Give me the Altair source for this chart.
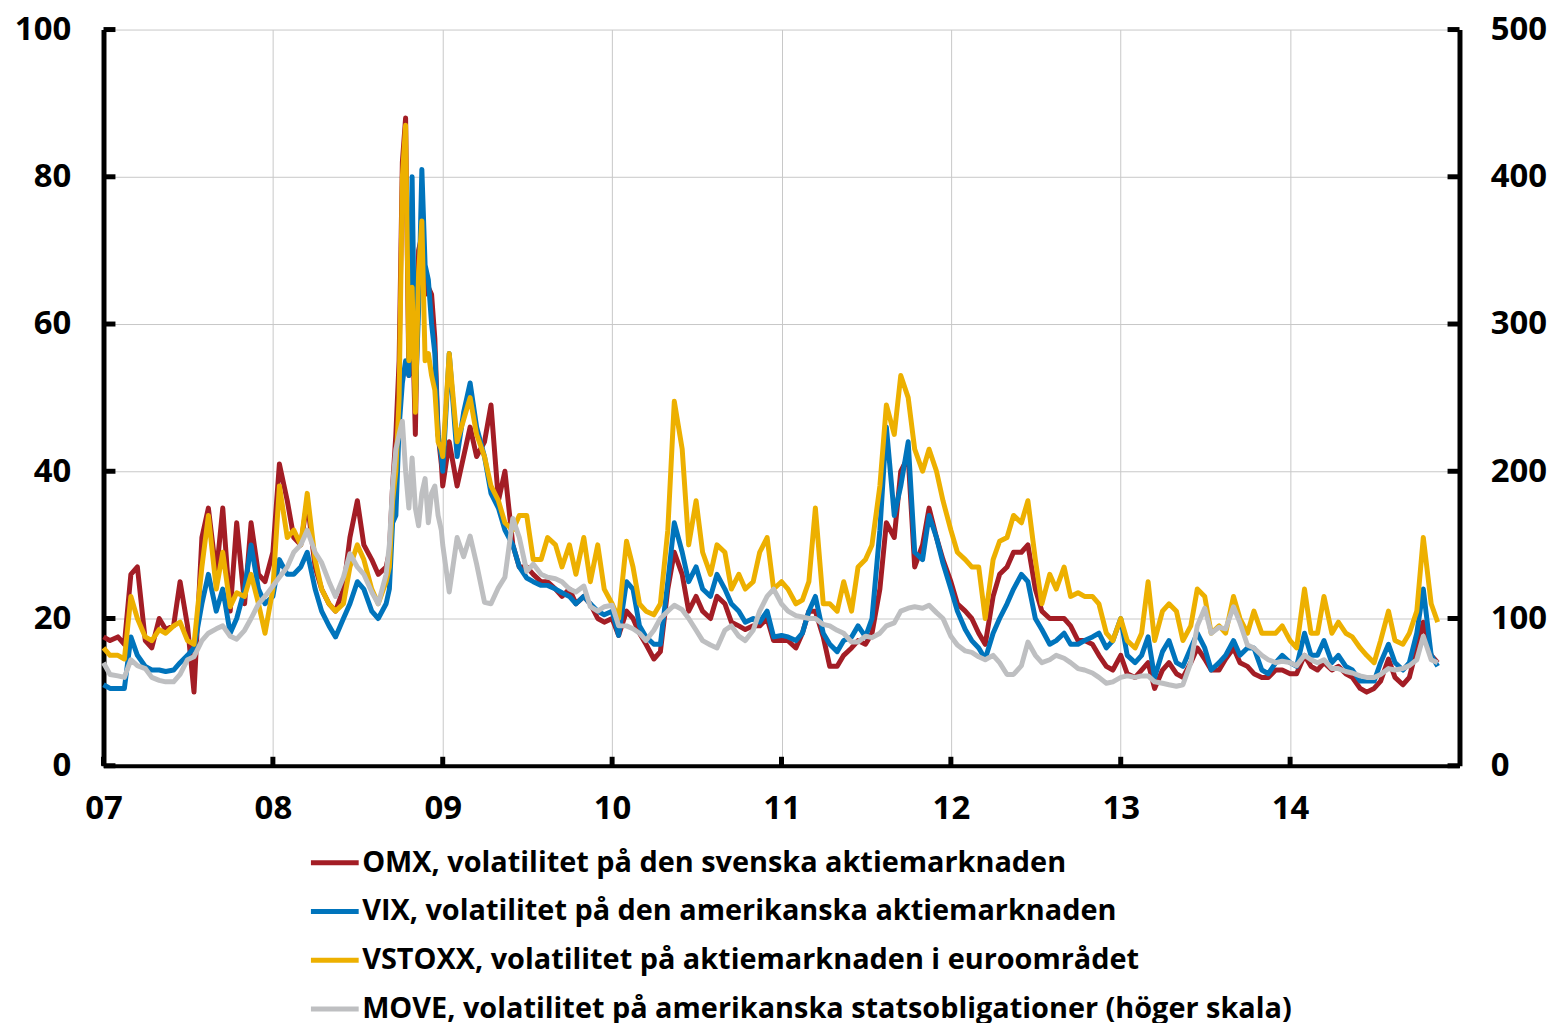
import altair as alt
import pandas as pd

# ---- dates: semi-monthly, weekly during autumn 2008 ----
dates = (list(pd.date_range("2007-01-01", "2008-08-15", freq="SMS"))
         + list(pd.date_range("2008-09-01", "2008-12-29", freq="W-MON"))
         + list(pd.date_range("2009-01-01", "2014-11-15", freq="SMS")))

# ---- series values ----
omx = (
    [17.5, 17, 17.5, 16.5, 26, 27, 17, 16, 20, 18.5, 19, 25, 19, 10, 31, 35, 26, 35, 21, 33, 22, 33, 26, 25]
    + [29, 41, 36, 31, 30, 36, 27, 24, 22, 21, 24, 31, 36, 30, 28, 26]
    + [27, 29, 38, 45, 55, 82, 88, 53, 62, 45, 70, 72, 64, 65, 64, 58, 45, 41]
    + [38, 44, 38, 42, 46, 42, 44, 49, 36, 40, 30, 27, 27, 26, 25, 25, 24, 23, 24, 22, 23, 22, 20, 19.5]
    + [20, 17.7, 21, 20, 18, 16.5, 14.5, 15.5, 24, 29, 26, 21, 23, 21, 20, 23, 22, 19.5, 19, 18.5, 19, 19, 20, 17]
    + [17, 17, 16, 18, 21, 21, 17.5, 13.5, 13.5, 15, 16, 17, 16.5, 18, 24, 33, 31, 40, 42, 27, 30, 35, 31, 28]
    + [25, 22, 21, 20, 18, 16.5, 23, 26, 27, 29, 29, 30, 24, 21, 20, 20, 20, 19, 17, 17, 16.5, 15, 13.5, 13]
    + [15, 12.5, 12, 13, 14, 10.5, 13, 14, 12.5, 12, 14, 16, 14.5, 13, 13, 14.5, 16, 14, 13.5, 12.5, 12, 12, 13, 13]
    + [12.5, 12.5, 15, 13.5, 13, 14, 13, 13.5, 12.5, 12, 10.5, 10, 10.5, 11.5, 14.5, 12, 11, 12, 16, 19.5, 15, 14]
)
vix = (
    [11, 10.5, 10.5, 10.5, 17.5, 15, 13.5, 13, 13, 12.8, 13, 14, 15, 16, 22, 26, 21, 24, 18, 20, 24, 30, 24, 22]
    + [23, 28, 26, 26, 27, 29, 24, 21, 19, 17.5, 20, 22, 25, 24, 21, 20]
    + [22, 24, 33, 34, 46, 52, 55, 53, 80, 50, 62, 81, 68, 66, 60, 56, 45, 42]
    + [40, 56, 42, 48, 52, 46, 42, 37, 35, 32, 30, 27, 25.5, 25, 24.5, 24.5, 24, 23.5, 23, 22, 23, 22, 21, 20.5]
    + [21, 17.7, 25, 24, 19, 17.5, 16.5, 16.5, 25, 33, 29, 25, 27, 24, 23, 26, 24, 22, 21, 19.5, 20, 19.5, 21, 17.5]
    + [17.7, 17.5, 17, 18, 21, 23, 18, 16.5, 15.5, 17, 17.5, 19, 17.5, 20, 32, 46, 34, 38, 44, 29, 28, 34, 31, 27.5]
    + [24, 21, 18.5, 17, 16, 14.5, 18, 20, 22, 24, 26, 25, 20, 18.5, 16.5, 17, 18, 16.5, 16.5, 17, 17.5, 18, 16, 17]
    + [20, 15, 14, 15, 17.5, 12, 15.5, 17, 14, 13.5, 16, 18, 16, 13, 14, 15, 17, 15, 16, 16, 13, 12.5, 14, 15]
    + [14, 13.5, 18, 15, 15, 17, 14, 15, 13.5, 13, 11.5, 11.5, 11.5, 14, 16.5, 14, 13, 14, 18, 24, 15, 13.5]
)
vstoxx = (
    [16, 15, 15, 14.5, 23, 20, 17.5, 17, 18.5, 18, 19, 19.5, 17, 16.5, 27, 34, 24, 29, 21.6, 23.5, 23, 26, 22, 18]
    + [24, 38, 31, 32, 30, 37, 28, 24, 22, 21, 22, 27, 30, 28, 24, 22]
    + [25, 27, 36, 40, 50, 80, 87, 55, 65, 48, 67, 74, 55, 56, 53, 51, 44, 43]
    + [42, 56, 44, 47, 50, 45, 42, 38, 36, 33, 32, 34, 34, 28, 28, 31, 30, 27, 30, 26, 31, 25, 30, 24]
    + [22, 20, 30.5, 27, 22, 21, 20.5, 22, 32, 49.5, 43, 30, 36, 29, 26, 30, 29, 24, 26, 24, 25, 29, 31, 24]
    + [25, 24, 22, 22.5, 25, 35, 22, 22, 21, 25, 21, 27, 28, 30, 38, 49, 45, 53, 50, 43, 40, 43, 40, 36]
    + [32, 29, 28, 27, 27, 20, 28, 30.5, 31, 34, 33, 36, 28, 22, 26, 24, 27, 23, 23.5, 23, 23, 22, 18, 17]
    + [20, 17, 16, 18, 25, 17, 21, 22, 21, 17, 19, 24, 23, 18, 19, 18, 23, 20, 18, 21, 18, 18, 18, 19]
    + [17, 16, 24, 18, 18, 23, 18, 19.5, 18, 17.5, 16, 15, 14, 17, 21, 17, 16.5, 18, 21, 31, 22, 19.5]
)
move = (
    [70, 62, 61, 60, 72, 68, 66, 60, 58, 57, 57, 62, 72, 74, 85, 90, 93, 95, 88, 86, 92, 100, 110, 115]
    + [122, 128, 135, 145, 150, 160, 145, 138, 125, 115, 128, 144, 135, 130, 118, 110]
    + [130, 150, 190, 215, 225, 234, 200, 175, 209, 175, 163, 185, 195, 165, 185, 190, 170, 160]
    + [150, 118, 155, 142, 156, 137, 111, 110, 121, 128, 168, 155, 132, 137, 130, 128, 127, 125, 120, 118, 122, 108, 105, 108]
    + [109, 95, 95, 93, 90, 85, 92, 100, 105, 109, 106, 100, 92, 85, 82, 80, 92, 95, 88, 85, 92, 105, 115, 120]
    + [110, 105, 102, 101, 100, 100, 96, 95, 92, 90, 84, 84, 88, 87, 90, 95, 97, 105, 107, 108, 107, 109, 104, 100]
    + [88, 82, 78, 77, 74, 72, 75, 70, 62, 62, 68, 84, 75, 70, 72, 75, 73, 70, 66, 65, 63, 60, 56, 57]
    + [60, 61, 60, 61, 61, 57, 56, 55, 54, 55, 70, 95, 107, 90, 94, 93, 108, 97, 82, 80, 75, 72, 70, 71]
    + [70, 68, 75, 72, 70, 72, 66, 66, 64, 63, 61, 60, 60, 62, 66, 65, 66, 68, 72, 88, 72, 70]
)

labels = [
    "OMX, volatilitet på den svenska aktiemarknaden",
    "VIX, volatilitet på den amerikanska aktiemarknaden",
    "VSTOXX, volatilitet på aktiemarknaden i euroområdet",
    "MOVE, volatilitet på amerikanska statsobligationer (höger skala)",
]
colors = ["#A31D25", "#0074BC", "#EDB000", "#BEBFC1"]

left_ticks = [0, 20, 40, 60, 80, 100]
right_ticks = [0, 100, 200, 300, 400, 500]
year_ticks = list(range(2007, 2015))

# ---- long table ----
rows = []
for lab, vals in zip(labels, [omx, vix, vstoxx, move]):
    assert len(vals) == len(dates), (lab, len(vals), len(dates))
    for d, v in zip(dates, vals):
        rows.append({"date": d, "series": lab, "value": v})
df = pd.DataFrame(rows)

tick_df = pd.DataFrame({"value": left_ticks})
year_df = pd.DataFrame({"date": [pd.Timestamp(year=y, month=1, day=1) for y in year_ticks]})

W, H = 1363, 740
FONT = "Open Sans"
TICK_FS = 33

X = alt.X(
    "date:T",
    scale=alt.Scale(domain=[alt.DateTime(year=2007, month=1, date=1),
                            alt.DateTime(year=2015, month=1, date=1)]),
    axis=alt.Axis(values=[alt.DateTime(year=y, month=1, date=1) for y in year_ticks],
                  format="%y", title=None, grid=True, gridColor="#c8c8c8", gridWidth=1,
                  domainColor="black", domainWidth=4, ticks=False, tickSize=0,
                  labelPadding=27, labelFont=FONT, labelFontSize=TICK_FS, labelFontWeight="bold",
                  labelColor="black", labelFlush=False),
)
Y_left = alt.Y(
    "value:Q",
    scale=alt.Scale(domain=[0, 100], nice=False, zero=True),
    axis=alt.Axis(values=left_ticks, orient="left", title=None, grid=True, gridColor="#c8c8c8",
                  gridWidth=1, domainColor="black", domainWidth=5, ticks=False, tickSize=0,
                  labelPadding=33, labelFont=FONT, labelFontSize=TICK_FS, labelFontWeight="bold",
                  labelColor="black", labelFlush=False),
)
Y_right = alt.Y(
    "value:Q",
    scale=alt.Scale(domain=[0, 500], nice=False, zero=True),
    axis=alt.Axis(values=right_ticks, orient="right", title=None, grid=False,
                  domainColor="black", domainWidth=5, ticks=False, tickSize=0,
                  labelPadding=31, labelFont=FONT, labelFontSize=TICK_FS, labelFontWeight="bold",
                  labelColor="black", labelFlush=False),
)
C = alt.Color(
    "series:N",
    scale=alt.Scale(domain=labels, range=colors),
    legend=alt.Legend(orient="none", legendX=206, legendY=811, direction="vertical", title=None,
                      symbolType="stroke", symbolStrokeWidth=5, symbolSize=2304,
                      labelFont=FONT, labelFontSize=29, labelFontWeight="bold", labelColor="black",
                      labelLimit=1400, rowPadding=7, labelOffset=1),
)


def series_line(lab):
    return (alt.Chart(df).transform_filter(alt.datum.series == lab)
            .mark_line(strokeWidth=5, strokeJoin="round")
            .encode(x=X, y=Y_left if lab != labels[3] else Y_right, color=C))


lticks = alt.Chart(tick_df).mark_rule(color="black", strokeWidth=5).encode(
    y=Y_left, x=alt.value(0), x2=alt.value(12))
rticks = alt.Chart(tick_df).mark_rule(color="black", strokeWidth=5).encode(
    y=Y_left, x=alt.value(W - 12), x2=alt.value(W))
bticks = alt.Chart(year_df).mark_rule(color="black", strokeWidth=5).encode(
    x=X, y=alt.value(H - 9), y2=alt.value(H))

inner = alt.layer(series_line(labels[0]), series_line(labels[1]), series_line(labels[2]),
                  lticks, rticks, bticks)

chart = (
    alt.layer(inner, series_line(labels[3]))
    .resolve_scale(y="independent")
    .properties(width=W, height=H, autosize=alt.AutoSizeParams(type="none"),
                padding={"left": 96, "top": 19, "right": 95, "bottom": 270})
    .configure_view(stroke=None)
)

chart.save("out.html", embed_options={"renderer": "svg", "actions": False})
